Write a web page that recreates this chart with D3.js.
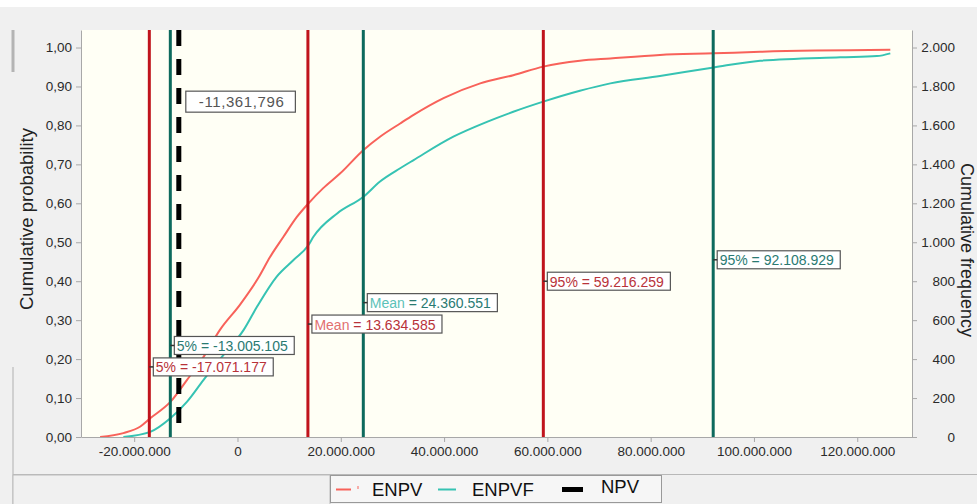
<!DOCTYPE html>
<html>
<head>
<meta charset="utf-8">
<script src="https://cdn.jsdelivr.net/npm/d3@7"></script>
<style>
  body { margin: 0; background: #f0f0f0; }
  svg { display: block; font-family: "Liberation Sans", Arial, sans-serif; }
</style>
</head>
<body>
<svg id="chart" width="977" height="504"></svg>
<script>
// cumulative distributions, x in millions, p = cumulative probability
var enpvX = [-26.6, -22.1, -18.8, -16.9, -13.0, -9.8, -6.6, -3.4, 0.5, 4.1, 6.3, 8.9, 11.5, 13.75, 16.6, 19.9, 24.4, 27.6, 31.5, 34.1, 39.9, 47.0, 53.4, 59.2, 66.3, 72.2, 81.8, 92.2, 101.2, 126.4];
var enpvP = [0.0, 0.01, 0.027, 0.048, 0.09, 0.146, 0.205, 0.275, 0.34, 0.41, 0.462, 0.514, 0.565, 0.60, 0.639, 0.677, 0.737, 0.771, 0.805, 0.827, 0.87, 0.908, 0.929, 0.951, 0.966, 0.972, 0.981, 0.985, 0.989, 0.994];

var enpvfX = [-22.1, -16.9, -13.0, -9.8, -6.6, -2.7, 1.2, 3.8, 7.6, 10.8, 13.75, 14.7, 19.3, 24.4, 27.6, 31.5, 34.1, 41.8, 48.3, 53.4, 59.2, 66.3, 72.2, 81.8, 92.2, 101.2, 116.7, 123.8, 126.4];
var enpvfP = [0.0, 0.013, 0.048, 0.09, 0.146, 0.211, 0.275, 0.335, 0.412, 0.454, 0.493, 0.514, 0.574, 0.617, 0.656, 0.69, 0.711, 0.771, 0.809, 0.835, 0.861, 0.889, 0.908, 0.927, 0.949, 0.966, 0.975, 0.978, 0.985];

var markerNames = ['5%', 'Mean', '95%', '5%', 'Mean', '95%'];
var markerSeries = ['ENPV', 'ENPV', 'ENPV', 'ENPVF', 'ENPVF', 'ENPVF'];
var markerValues = [-17071177, 13634585, 59216259, -13005105, 24360551, 92108929];
var npvValue = -11361796;

var xTicks = [-20, 0, 20, 40, 60, 80, 100, 120];
var probTicks = [0, 0.1, 0.2, 0.3, 0.4, 0.5, 0.6, 0.7, 0.8, 0.9, 1.0];
var freqTicks = [0, 200, 400, 600, 800, 1000, 1200, 1400, 1600, 1800, 2000];
var legendNames = ['ENPV', 'ENPVF', 'NPV'];

// layout
var plot = { left: 81, right: 912, top: 30, bottom: 437 };
var labelLevel = [0.18, 0.29, 0.40, 0.235, 0.345, 0.455];
var colors = {
  ENPV: { curve: '#f8625a', line: '#c0141c', text: '#b8323a', soft: '#e27070' },
  ENPVF: { curve: '#36c3b3', line: '#0d6a5d', text: '#2a7a72', soft: '#5cc2b8' }
};

var loc = d3.formatLocale({ decimal: ',', thousands: '.', grouping: [3], currency: ['', ''], minus: '-' });
var fmtInt = loc.format(',d');
var fmtProb = loc.format('.2f');

var svg = d3.select('#chart');

// page chrome
svg.append('rect').attr('x', 0).attr('y', 0).attr('width', 977).attr('height', 7).attr('fill', '#ffffff');
svg.append('rect').attr('x', 11.5).attr('y', 30).attr('width', 3).attr('height', 42).attr('fill', '#b4b4b4');
svg.append('line').attr('x1', 13).attr('x2', 13).attr('y1', 367).attr('y2', 504).attr('stroke', '#b0b0b0');
svg.append('line').attr('x1', 13).attr('x2', 977).attr('y1', 474.5).attr('y2', 474.5).attr('stroke', '#b8b8b8');

var x = d3.scaleLinear().domain([-30.3, 130.6]).range([plot.left, plot.right]);
var y = d3.scaleLinear().domain([0, 1.045]).range([plot.bottom, plot.top]);
var yFreq = d3.scaleLinear().domain([0, 2090]).range([plot.bottom, plot.top]);

svg.append('rect')
  .attr('x', plot.left).attr('y', plot.top)
  .attr('width', plot.right - plot.left).attr('height', plot.bottom - plot.top)
  .attr('fill', '#fffff5');

svg.append('clipPath').attr('id', 'clip')
  .append('rect')
  .attr('x', plot.left).attr('y', plot.top)
  .attr('width', plot.right - plot.left).attr('height', plot.bottom - plot.top);

// axes
function styleAxis(g) {
  g.selectAll('.domain').attr('stroke', '#a8a8a8');
  g.selectAll('.tick line').attr('stroke', '#a8a8a8');
  g.selectAll('.tick text').attr('fill', '#2a2a2a').style('font-size', '13.5px');
}

svg.append('g')
  .attr('transform', 'translate(0,' + plot.bottom + ')')
  .call(d3.axisBottom(x).tickValues(xTicks).tickSize(5).tickSizeOuter(0).tickPadding(4)
    .tickFormat(function(d){ return fmtInt(d * 1e6); }))
  .call(styleAxis);

svg.append('g')
  .attr('transform', 'translate(' + plot.left + ',0)')
  .call(d3.axisLeft(y).tickValues(probTicks).tickSize(5).tickSizeOuter(0).tickPadding(4)
    .tickFormat(fmtProb))
  .call(styleAxis);

svg.append('g')
  .attr('transform', 'translate(' + plot.right + ',0)')
  .call(d3.axisRight(yFreq).tickValues(freqTicks).tickSize(5).tickSizeOuter(0).tickPadding(5)
    .tickFormat(fmtInt))
  .call(styleAxis)
  .selectAll('.tick text').attr('text-anchor', 'end').attr('dx', '33');

svg.append('text')
  .attr('transform', 'translate(33,219) rotate(-90)')
  .attr('text-anchor', 'middle')
  .attr('fill', '#222')
  .style('font-size', '18.5px')
  .text('Cumulative probability');

svg.append('text')
  .attr('transform', 'translate(961,250) rotate(90)')
  .attr('text-anchor', 'middle')
  .attr('fill', '#222')
  .style('font-size', '18px')
  .text('Cumulative frequency');

// curves
var area = svg.append('g').attr('clip-path', 'url(#clip)');
var line = d3.line()
  .x(function(d){ return x(d[0]); })
  .y(function(d){ return y(d[1]); })
  .curve(d3.curveMonotoneX);

area.append('path')
  .datum(d3.zip(enpvX, enpvP))
  .attr('d', line).attr('fill', 'none')
  .attr('stroke', colors.ENPV.curve).attr('stroke-width', 2);

area.append('path')
  .datum(d3.zip(enpvfX, enpvfP))
  .attr('d', line).attr('fill', 'none')
  .attr('stroke', colors.ENPVF.curve).attr('stroke-width', 2);

// marker lines
var markers = markerValues.map(function(v, i){
  return { name: markerNames[i], series: markerSeries[i], value: v, level: labelLevel[i] };
});

area.selectAll('line.marker')
  .data(markers).enter()
  .append('line').attr('class', 'marker')
  .attr('x1', function(d){ return x(d.value / 1e6); })
  .attr('x2', function(d){ return x(d.value / 1e6); })
  .attr('y1', plot.top).attr('y2', plot.bottom)
  .attr('stroke', function(d){ return colors[d.series].line; })
  .attr('stroke-width', 3);

area.append('line')
  .attr('x1', x(npvValue / 1e6)).attr('x2', x(npvValue / 1e6))
  .attr('y1', plot.top).attr('y2', plot.bottom - 4)
  .attr('stroke', '#000').attr('stroke-width', 5)
  .attr('stroke-dasharray', '16,13');

// marker labels
markers.forEach(function(d){
  var lx = x(d.value / 1e6);
  var cy = y(d.level);
  var g = svg.append('g');
  var box = g.append('rect')
    .attr('x', lx + 4).attr('y', cy - 9).attr('height', 18)
    .attr('fill', '#ffffff').attr('stroke', '#555').attr('stroke-width', 1.2);
  var t = g.append('text')
    .attr('x', lx + 6.5).attr('y', cy + 5.5)
    .style('font-size', '14px');
  if (d.name === 'Mean') {
    t.append('tspan').attr('fill', colors[d.series].soft).text('Mean');
    t.append('tspan').attr('fill', colors[d.series].text)
      .text((d.series === 'ENPVF' ? '  = ' : ' = ') + fmtInt(d.value));
  } else {
    t.append('tspan').attr('fill', colors[d.series].text)
      .text(d.name + ' = ' + fmtInt(d.value));
  }
  var w = t.node().getComputedTextLength();
  box.attr('width', w + 9);
  g.append('line')
    .attr('x1', lx).attr('x2', lx + 4).attr('y1', cy).attr('y2', cy)
    .attr('stroke', '#333').attr('stroke-width', 1.5);
});

// NPV label
(function(){
  var lx = x(npvValue / 1e6);
  var cy = y(0.861);
  var g = svg.append('g');
  var box = g.append('rect')
    .attr('x', lx + 7).attr('y', cy - 10.5).attr('height', 21)
    .attr('fill', '#ffffff').attr('stroke', '#555').attr('stroke-width', 1.2);
  var t = g.append('text')
    .attr('x', lx + 20).attr('y', cy + 5.5)
    .attr('fill', '#555')
    .style('font-size', '15px').style('letter-spacing', '0.6px')
    .text(d3.format(',d')(npvValue).replace('−', '-'));
  box.attr('width', t.node().getComputedTextLength() + 24);
})();

// legend
var lg = svg.append('g');
lg.append('rect').attr('x', 13).attr('y', 475).attr('width', 317).attr('height', 30)
  .attr('fill', '#f0f0f0').attr('stroke', '#bbb');
lg.append('rect').attr('x', 330.5).attr('y', 475.5).attr('width', 331).attr('height', 27)
  .attr('fill', '#f6f6f6').attr('stroke', '#999');

var legendSample = [[336, 351], [438, 456], [562, 583]];
var legendTextX = [372, 472, 601];
var legendTextY = [496, 496, 493];
var legendStroke = [colors.ENPV.curve, colors.ENPVF.curve, '#000'];
var legendWidth = [2, 2, 5];

legendNames.forEach(function(name, i){
  lg.append('line')
    .attr('x1', legendSample[i][0]).attr('x2', legendSample[i][1])
    .attr('y1', 489.5).attr('y2', 489.5)
    .attr('stroke', legendStroke[i]).attr('stroke-width', legendWidth[i]);
  lg.append('text')
    .attr('x', legendTextX[i]).attr('y', legendTextY[i])
    .attr('fill', '#111')
    .style('font-size', '18.5px')
    .text(name);
});
lg.append('line').attr('x1', 358).attr('x2', 358).attr('y1', 486).attr('y2', 489)
  .attr('stroke', colors.ENPV.curve).attr('stroke-width', 1);
</script>
</body>
</html>
